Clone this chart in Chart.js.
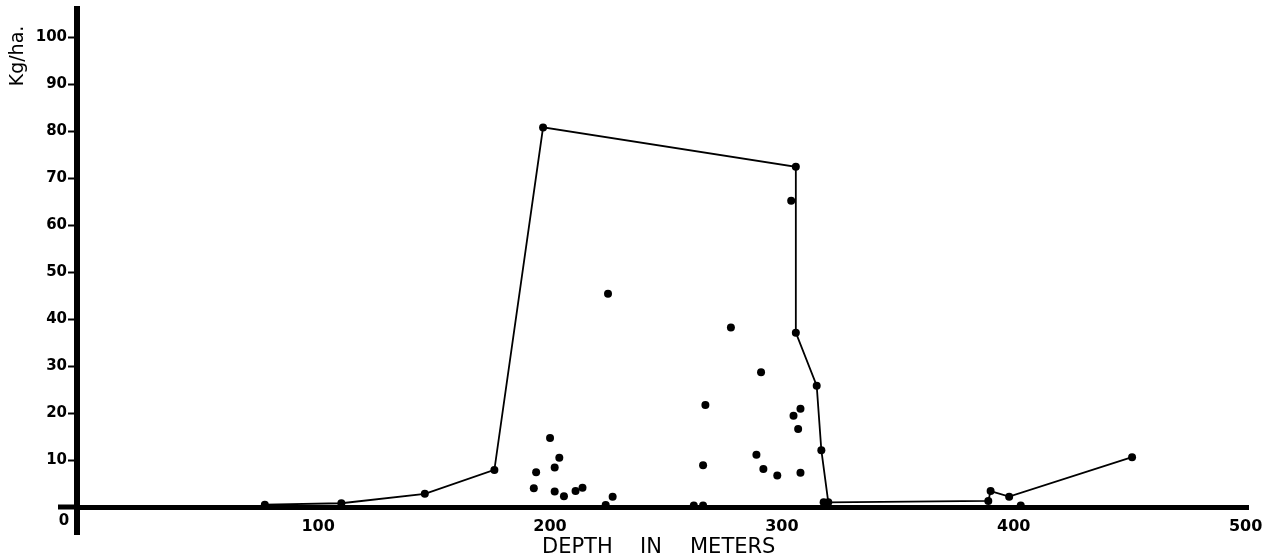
<!DOCTYPE html>
<html>
<head>
<meta charset="utf-8">
<script src="https://cdn.jsdelivr.net/npm/chart.js@4.4.1/dist/chart.umd.min.js"></script>
<style>
  html, body { margin: 0; padding: 0; background: #ffffff; }
  #wrap { position: relative; width: 1264px; height: 557px; }
</style>
</head>
<body>
<div id="wrap"><canvas id="c" width="1264" height="557"></canvas></div>
<script>
// Connected (envelope) series
const lineDepth = [77, 110, 146, 176, 197, 306, 306, 315, 317, 320, 389, 390, 398, 451];
const lineKg    = [0.5, 0.8, 2.8, 7.9, 80.8, 72.4, 37.1, 25.8, 12.1, 1.0, 1.3, 3.4, 2.2, 10.6];

// Individual (unconnected) samples
const dotDepth = [304, 278, 291, 267, 308, 305, 307, 289, 266, 292, 298, 308, 318, 262, 266,
                  225, 200, 204, 202, 194, 193, 202, 206, 211, 214, 227, 224, 403];
const dotKg    = [65.2, 38.2, 28.7, 21.7, 20.9, 19.4, 16.6, 11.1, 8.9, 8.1, 6.7, 7.3, 1.0, 0.3, 0.3,
                  45.4, 14.7, 10.5, 8.4, 7.4, 4.0, 3.3, 2.3, 3.4, 4.1, 2.2, 0.4, 0.3];

// Tick labels
const xTicks = [100, 200, 300, 400, 500];
const yTicks = [10, 20, 30, 40, 50, 60, 70, 80, 90, 100];

const xTitleWords = ['DEPTH', 'IN', 'METERS'];
const yTitle = 'Kg/ha.';
const originLabel = '0';

const toPoints = (xs, ys) => xs.map((x, i) => ({ x: x, y: ys[i] }));

const extras = {
  id: 'extras',
  afterDraw(chart) {
    const ctx = chart.ctx;
    const xs = chart.scales.x, ys = chart.scales.y;
    const x0 = xs.getPixelForValue(xs.min);
    const y0 = ys.getPixelForValue(0);
    ctx.save();
    ctx.strokeStyle = '#000';
    // x-axis extension to the left of the y-axis
    ctx.lineWidth = 5;
    ctx.beginPath();
    ctx.moveTo(58, y0);
    ctx.lineTo(x0, y0);
    ctx.stroke();
    // y-axis extension below the x-axis
    ctx.lineWidth = 6;
    ctx.beginPath();
    ctx.moveTo(x0, y0);
    ctx.lineTo(x0, 535);
    ctx.stroke();
    // origin label
    ctx.fillStyle = '#000';
    ctx.font = 'bold 15px "DejaVu Sans"';
    ctx.textAlign = 'center';
    ctx.textBaseline = 'middle';
    ctx.fillText(originLabel, 64, 521);
    // x title
    ctx.font = '21px "DejaVu Sans"';
    ctx.textAlign = 'left';
    ctx.fillText(xTitleWords[0], 542, 548);
    ctx.fillText(xTitleWords[1], 640, 548);
    ctx.fillText(xTitleWords[2], 690, 548);
    // y title (rotated)
    ctx.translate(18, 56);
    ctx.rotate(-Math.PI / 2);
    ctx.font = '19px "DejaVu Sans"';
    ctx.textAlign = 'center';
    ctx.fillText(yTitle, 0, 0);
    ctx.restore();
  }
};

new Chart(document.getElementById('c'), {
  type: 'scatter',
  data: {
    datasets: [
      {
        label: 'envelope',
        data: toPoints(lineDepth, lineKg),
        showLine: true,
        borderColor: '#000',
        borderWidth: 1.8,
        backgroundColor: '#000',
        pointRadius: 4,
        pointBorderWidth: 0,
        pointBackgroundColor: '#000',
        clip: false,
        tension: 0
      },
      {
        label: 'samples',
        data: toPoints(dotDepth, dotKg),
        showLine: false,
        backgroundColor: '#000',
        borderColor: '#000',
        pointRadius: 4,
        pointBorderWidth: 0,
        clip: false
      }
    ]
  },
  options: {
    responsive: false,
    animation: false,
    events: [],
    layout: { padding: { left: 0, top: 9, right: 16, bottom: 0 } },
    plugins: { legend: { display: false }, tooltip: { enabled: false }, title: { display: false } },
    scales: {
      x: {
        type: 'linear',
        position: 'bottom',
        min: -4,
        max: 501,
        afterBuildTicks: (s) => { s.ticks = xTicks.map(v => ({ value: v })); },
        afterFit: (s) => { s.height = 50; s.paddingRight = 0; s.paddingLeft = 0; },
        grid: { display: false, drawTicks: false },
        border: { display: true, color: '#000', width: 5 },
        ticks: {
          color: '#000',
          font: { family: 'DejaVu Sans', size: 16, weight: 'bold' },
          padding: 10,
          maxRotation: 0,
          autoSkip: false
        }
      },
      y: {
        type: 'linear',
        position: 'left',
        min: 0,
        max: 106,
        afterBuildTicks: (s) => { s.ticks = yTicks.map(v => ({ value: v })); },
        afterFit: (s) => { s.width = 77; s.paddingTop = 0; s.paddingBottom = 0; },
        grid: {
          display: true,
          drawOnChartArea: false,
          drawTicks: true,
          tickLength: 9,
          tickWidth: 2,
          tickColor: '#000',
          color: '#000'
        },
        border: { display: true, color: '#000', width: 6 },
        ticks: {
          color: '#000',
          font: { family: 'DejaVu Sans', size: 15, weight: 'bold' },
          padding: 1,
          autoSkip: false
        }
      }
    }
  },
  plugins: [extras]
});
</script>
</body>
</html>
